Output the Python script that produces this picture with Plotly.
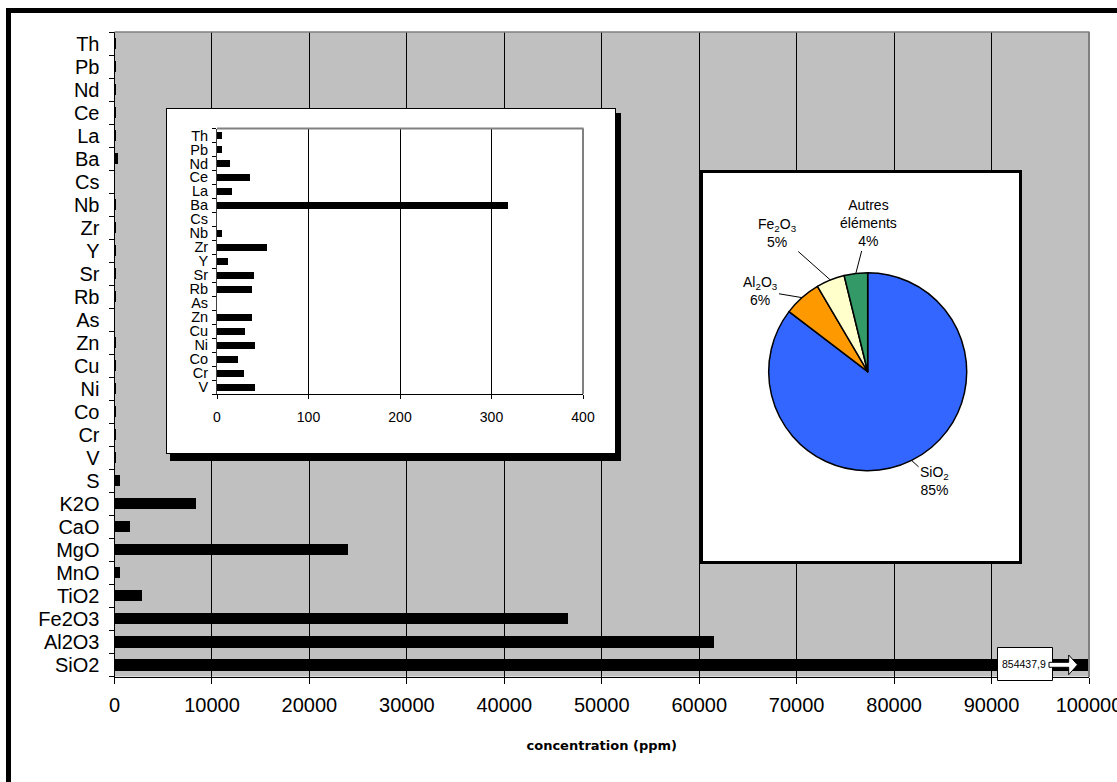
import math
import plotly.graph_objects as go

W, H = 1117, 782

# Oxides and sulphur, bottom to top (ppm)
major_labels = ["SiO2", "Al2O3", "Fe2O3", "TiO2", "MnO", "MgO", "CaO", "K2O", "S"]
major_values = [854437.9, 61500, 46500, 2800, 500, 23900, 1550, 8300, 500]

# Trace elements, bottom to top (ppm)
trace_labels = ["V", "Cr", "Co", "Ni", "Cu", "Zn", "As", "Rb", "Sr", "Y",
                "Zr", "Nb", "Cs", "Ba", "La", "Ce", "Nd", "Pb", "Th"]
trace_values = [42, 29, 23, 42, 31, 38, 0, 38, 40, 12,
                55, 5, 0, 318, 16, 36, 14, 5, 5]

main_ticks = [0, 10000, 20000, 30000, 40000, 50000, 60000, 70000, 80000, 90000, 100000]
inset_ticks = [0, 100, 200, 300, 400]

# Pie: the three main oxides, everything else grouped
pie_names = ["SiO<sub>2</sub>", "Al<sub>2</sub>O<sub>3</sub>",
             "Fe<sub>2</sub>O<sub>3</sub>", "Autres<br>éléments"]
pie_colors = ["#3366FF", "#FF9900", "#FFFFCC", "#339966"]

all_labels = major_labels + trace_labels
all_values = major_values + trace_values
pie_values = major_values[:3] + [sum(all_values) - sum(major_values[:3])]

FONT = "Liberation Sans, Arial, sans-serif"


def px(x):
    return x / W


def py(y):
    return 1 - y / H


fig = go.Figure()

# Main horizontal bar chart
fig.add_trace(go.Bar(
    x=all_values, y=all_labels, orientation="h",
    marker=dict(color="black", line=dict(width=0)),
    width=0.48, xaxis="x", yaxis="y", showlegend=False, hoverinfo="x+y",
))

# Frame of the inset (its own subplot so it sits above the main grid)
fig.add_trace(go.Scatter(x=[], y=[], xaxis="x2", yaxis="y2",
                         showlegend=False, hoverinfo="skip"))

# Trace-element inset
fig.add_trace(go.Bar(
    x=trace_values, y=trace_labels, orientation="h",
    marker=dict(color="black", line=dict(width=0)),
    width=0.5, xaxis="x3", yaxis="y3", showlegend=False, hoverinfo="x+y",
))

# Frame behind the pie
fig.add_trace(go.Scatter(x=[], y=[], xaxis="x4", yaxis="y4",
                         showlegend=False, hoverinfo="skip"))

# Composition pie
pie_cx, pie_cy, pie_r = 867.7, 371.7, 99
fig.add_trace(go.Pie(
    values=pie_values, labels=["SiO2", "Al2O3", "Fe2O3", "Autres éléments"],
    marker=dict(colors=pie_colors, line=dict(color="black", width=1.5)),
    sort=False, direction="clockwise", rotation=0,
    textinfo="none", hoverinfo="label+percent", showlegend=False,
    domain=dict(x=[px(pie_cx - pie_r), px(pie_cx + pie_r)],
                y=[py(pie_cy + pie_r), py(pie_cy - pie_r)]),
))

# Pie labels with leader lines to the middle of each slice
total = sum(pie_values)
label_offsets = [(23, 21), (-42, -7), (-53, -47), (13, -50)]
annotations = []
cum = 0
for name, val, (ax, ay) in zip(pie_names, pie_values, label_offsets):
    mid = (cum + val / 2) / total * 2 * math.pi
    cum += val
    ex = pie_cx + pie_r * math.sin(mid)
    ey = pie_cy - pie_r * math.cos(mid)
    annotations.append(dict(
        x=px(ex), y=py(ey), xref="paper", yref="paper",
        text=f"{name}<br>{round(100 * val / total)}%",
        showarrow=True, arrowhead=0, arrowwidth=1, arrowcolor="black",
        ax=ax, ay=ay, font=dict(family=FONT, size=14, color="black"),
    ))

# Value of the clipped SiO2 bar
annotations.append(dict(
    x=px(1024), y=py(663.5), xref="paper", yref="paper",
    xanchor="center", yanchor="middle",
    text=f"{major_values[0]:.1f}".replace(".", ","), showarrow=False,
    font=dict(family=FONT, size=10.5, color="black"),
))

shapes = [
    # grey plot area of the main chart
    dict(type="rect", xref="paper", yref="paper", layer="below",
         x0=px(114.5), x1=px(1089), y0=py(676.5), y1=py(32),
         fillcolor="#C0C0C0", line=dict(width=0)),
    # drop shadow of the inset frame
    dict(type="rect", xref="paper", yref="paper", layer="below",
         x0=px(170), x1=px(621), y0=py(461), y1=py(113),
         fillcolor="black", line=dict(width=0)),
    # grey top/right borders of the main plot area
    dict(type="line", xref="paper", yref="paper", layer="above",
         x0=px(114.5), x1=px(1089.5), y0=py(32), y1=py(32),
         line=dict(color="#808080", width=1.5)),
    dict(type="line", xref="paper", yref="paper", layer="above",
         x0=px(1089), x1=px(1089), y0=py(32), y1=py(677),
         line=dict(color="#808080", width=2)),
    # grey top/right borders of the inset plot area
    dict(type="line", xref="paper", yref="paper", layer="above",
         x0=px(217), x1=px(583.5), y0=py(128.5), y1=py(128.5),
         line=dict(color="#808080", width=2)),
    dict(type="line", xref="paper", yref="paper", layer="above",
         x0=px(583), x1=px(583), y0=py(128.5), y1=py(394),
         line=dict(color="#808080", width=2)),
    # label box for the clipped bar
    dict(type="rect", xref="paper", yref="paper", layer="above",
         x0=px(997.5), x1=px(1052.5), y0=py(680.5), y1=py(647.5),
         fillcolor="white", line=dict(color="black", width=1)),
    # block arrow pointing past the axis end
    dict(type="path", xref="paper", yref="paper", layer="above",
         path=("M {:.5f},{:.5f} L {:.5f},{:.5f} L {:.5f},{:.5f} L {:.5f},{:.5f} "
               "L {:.5f},{:.5f} L {:.5f},{:.5f} L {:.5f},{:.5f} Z").format(
             px(1049), py(662.3), px(1068.7), py(662.3), px(1068.7), py(655),
             px(1077.5), py(664.8), px(1068.7), py(674.7), px(1068.7), py(667.3),
             px(1049), py(667.3)),
         fillcolor="white", line=dict(color="black", width=1)),
    # outer frame
    dict(type="rect", xref="paper", yref="paper", layer="above",
         x0=px(8.5), x1=px(1140), y0=py(800), y1=py(10.5),
         fillcolor="rgba(0,0,0,0)", line=dict(color="black", width=5)),
]

blank_axis = dict(showgrid=False, zeroline=False, showticklabels=False,
                  ticks="", range=[0, 1], fixedrange=True, automargin=False,
                  showline=True, mirror=True, linecolor="black")

fig.update_layout(
    template="none",
    width=W, height=H, autosize=False,
    margin=dict(l=0, r=0, t=0, b=0, pad=0, autoexpand=False),
    paper_bgcolor="white", plot_bgcolor="white",
    font=dict(family=FONT, color="black"),
    bargap=0,
    xaxis=dict(
        domain=[px(114.5), px(1089)], anchor="y", range=[0, 100000],
        automargin=False, ticklabeloverflow="allow",
        tickmode="array", tickvals=main_ticks,
        ticktext=[str(v) for v in main_ticks],
        showgrid=True, gridcolor="black", gridwidth=1, zeroline=False,
        showline=True, linecolor="black", linewidth=1,
        ticks="outside", ticklen=6, tickcolor="black",
        tickfont=dict(size=20), ticklabelstandoff=4,
        title=dict(text="<b>concentration (ppm)</b>",
                   font=dict(size=13, family="DejaVu Sans, sans-serif"),
                   standoff=26),
    ),
    yaxis=dict(
        domain=[py(676.5), py(32)], anchor="x", type="category",
        automargin=False, ticklabeloverflow="allow",
        categoryorder="array", categoryarray=all_labels,
        tickmode="array", tickvals=all_labels, ticktext=all_labels,
        range=[-0.5, len(all_labels) - 0.5], tickson="boundaries",
        showgrid=False, zeroline=False,
        showline=True, linecolor="black", linewidth=1,
        ticks="outside", ticklen=5, tickcolor="black",
        tickfont=dict(size=20), ticklabelstandoff=10,
    ),
    xaxis2=dict(domain=[px(167), px(615)], anchor="y2", linewidth=1, **blank_axis),
    yaxis2=dict(domain=[py(453), py(109)], anchor="x2", linewidth=1, **blank_axis),
    xaxis3=dict(
        domain=[px(217), px(583)], anchor="y3", range=[0, 400],
        automargin=False, ticklabeloverflow="allow",
        tickmode="array", tickvals=inset_ticks,
        showgrid=True, gridcolor="black", gridwidth=1, zeroline=False,
        showline=True, linecolor="black", linewidth=1,
        ticks="outside", ticklen=4, tickcolor="black",
        tickfont=dict(size=14), ticklabelstandoff=6,
    ),
    yaxis3=dict(
        domain=[py(394), py(128.5)], anchor="x3", type="category",
        automargin=False, ticklabeloverflow="allow",
        categoryorder="array", categoryarray=trace_labels,
        tickmode="array", tickvals=trace_labels, ticktext=trace_labels,
        range=[-0.5, len(trace_labels) - 0.5], tickson="boundaries",
        showgrid=False, zeroline=False,
        showline=True, linecolor="#404040", linewidth=1,
        ticks="outside", ticklen=4, tickcolor="black",
        tickfont=dict(size=14.5), ticklabelstandoff=5,
    ),
    xaxis4=dict(domain=[px(703), px(1019)], anchor="y4", linewidth=3, **blank_axis),
    yaxis4=dict(domain=[py(561), py(173)], anchor="x4", linewidth=3, **blank_axis),
    shapes=shapes,
    annotations=annotations,
)

fig.write_html("out.html")
